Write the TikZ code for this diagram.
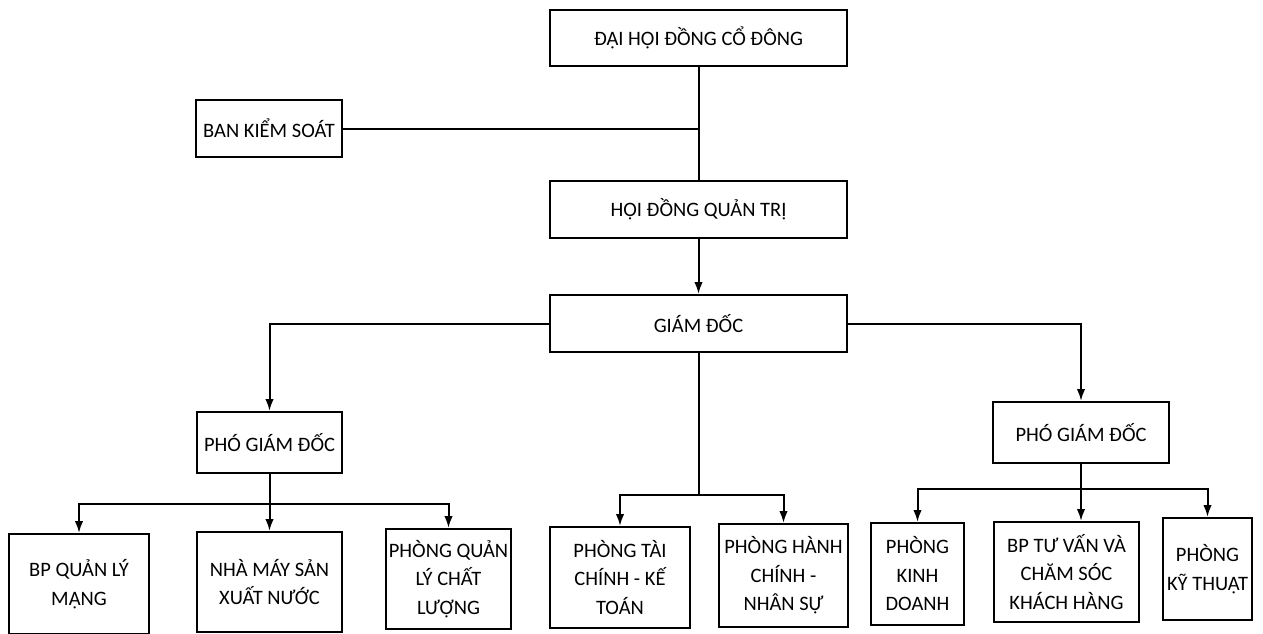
\documentclass[tikz,border=0pt]{standalone}
\usepackage{fontspec}
\setmainfont{Carlito}
\usepackage{tikz}
\usetikzlibrary{arrows.meta}

\begin{document}
\begin{tikzpicture}[x=1pt,y=-1pt,
    box/.style={draw,line width=2pt,align=center,inner sep=1pt,
      font=\fontsize{20.5}{28.5}\selectfont},
    arr/.style={-{Latex[length=12pt,width=8.5pt]},line width=2pt},
    lin/.style={line width=2pt}]
      \useasboundingbox (0,0) rectangle (1263,634);
      % Ledning
      \node[box,minimum width=297pt,minimum height=56pt] (dhdcd) at (698.5,38) {ĐẠI HỘI ĐỒNG CỔ ĐÔNG};
      \node[box,minimum width=146pt,minimum height=57pt] (bks) at (269,128.5) {BAN KIỂM SOÁT};
      \node[box,minimum width=297pt,minimum height=57pt] (hdqt) at (698.5,209.5) {HỘI ĐỒNG QUẢN TRỊ};
      \node[box,minimum width=297pt,minimum height=57pt] (gd) at (698.5,323.5) {GIÁM ĐỐC};
      % Phó giám đốc
      \node[box,minimum width=145pt,minimum height=61pt] (pgdl) at (269.5,442.5) {PHÓ GIÁM ĐỐC};
      \node[box,minimum width=176pt,minimum height=61pt] (pgdr) at (1081,432.5) {PHÓ GIÁM ĐỐC};
      % Phòng ban
      \node[box,minimum width=140pt,minimum height=100pt] (bpqlm) at (79,584) {BP QUẢN LÝ\\MẠNG};
      \node[box,minimum width=145pt,minimum height=100pt] (nmsxn) at (269.5,582) {NHÀ MÁY SẢN\\XUẤT NƯỚC};
      \node[box,minimum width=125pt,minimum height=100pt] (pqlcl) at (448.5,579) {PHÒNG QUẢN\\LÝ CHẤT\\LƯỢNG};
      \node[box,minimum width=140pt,minimum height=101pt] (ptckt) at (620,577.5) {PHÒNG TÀI\\CHÍNH - KẾ\\TOÁN};
      \node[box,minimum width=129pt,minimum height=103pt] (phcns) at (783.5,575.5) {PHÒNG HÀNH\\CHÍNH -\\NHÂN SỰ};
      \node[box,minimum width=93pt,minimum height=102pt] (pkd) at (917.5,574) {PHÒNG\\KINH\\DOANH};
      \node[box,minimum width=145pt,minimum height=100pt] (bptv) at (1066.5,572) {BP TƯ VẤN VÀ\\CHĂM SÓC\\KHÁCH HÀNG};
      \node[box,minimum width=89pt,minimum height=102pt] (pkt) at (1207.5,569) {PHÒNG\\KỸ THUẬT};
      % Grenpunkter
      \coordinate (ks) at (dhdcd.south |- bks.east);
      \coordinate (tl) at (pgdl.south |- 0,504);
      \coordinate (tm) at (gd.south |- 0,495);
      \coordinate (tr) at (pgdr.south |- 0,489);
      % Linjer
      \draw[lin] (dhdcd.south) -- (hdqt.north);
      \draw[lin] (bks.east) -- (ks);
      \draw[arr] (hdqt.south) -- (gd.north);
      \draw[arr] (gd.west) -| (pgdl.north);
      \draw[arr] (gd.east) -| (pgdr.north);
      \draw[lin] (gd.south) -- (tm);
      \draw[arr] (tm) -| (ptckt.north);
      \draw[arr] (tm) -| (phcns.north);
      \draw[lin] (pgdl.south) -- (tl);
      \draw[arr] (tl) -| (bpqlm.north);
      \draw[arr] (tl) -- (tl |- nmsxn.north);
      \draw[arr] (tl) -| (pqlcl.north);
      \draw[lin] (pgdr.south) -- (tr);
      \draw[arr] (tr) -| (pkd.north);
      \draw[arr] (tr) -- (tr |- bptv.north);
      \draw[arr] (tr) -| (pkt.north);
    \end{tikzpicture}
\end{document}
